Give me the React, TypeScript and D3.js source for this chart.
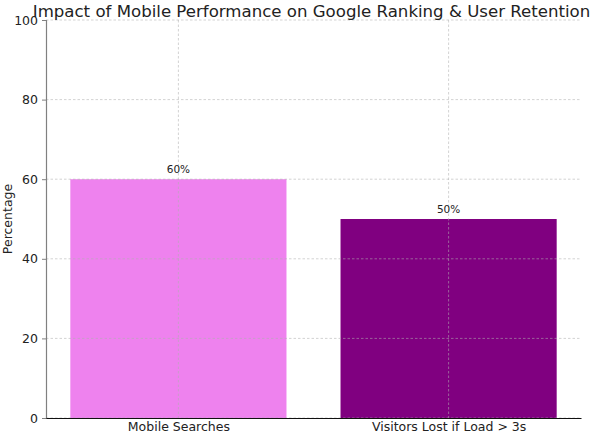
import React, { useRef, useEffect } from 'react';
import * as d3 from 'd3';

const categories = ['Mobile Searches', 'Visitors Lost if Load > 3s'];
const values = [60, 50];
const barColors = ['#EE82EE', '#800080'];
const yTicks = [0, 20, 40, 60, 80, 100];

const width = 593;
const height = 433;

const App: React.FC = () => {
  const svgRef = useRef<SVGSVGElement | null>(null);

  useEffect(() => {
    const svg = d3.select(svgRef.current);
    svg.selectAll('*').remove();

    const margin = { top: 20, right: 12, bottom: 15, left: 46 };
    const innerWidth = width - margin.left - margin.right;
    const innerHeight = height - margin.top - margin.bottom;
    const font = '"DejaVu Sans", sans-serif';

    // matplotlib-like band: bar width 0.8, 5% margins
    const x = d3.scaleLinear().domain([-0.49, 1.49]).range([0, innerWidth]);
    const y = d3.scaleLinear().domain([0, 100]).range([innerHeight, 0]);

    const g = svg.append('g').attr('transform', `translate(${margin.left},${margin.top})`);

    // Bars
    g.selectAll('rect.bar')
      .data(values)
      .enter()
      .append('rect')
      .attr('class', 'bar')
      .attr('x', (_, i) => x(i - 0.4))
      .attr('width', x(0.8) - x(0))
      .attr('y', d => y(d))
      .attr('height', d => innerHeight - y(d))
      .attr('fill', (_, i) => barColors[i]);

    // Grid (drawn over bars)
    g.append('g')
      .selectAll('line')
      .data(yTicks)
      .enter()
      .append('line')
      .attr('x1', 0)
      .attr('x2', innerWidth)
      .attr('y1', d => y(d))
      .attr('y2', d => y(d))
      .attr('stroke', '#b0b0b0')
      .attr('stroke-opacity', 0.7)
      .attr('stroke-width', 0.8)
      .attr('stroke-dasharray', '2.5,2');
    g.append('g')
      .selectAll('line')
      .data(categories)
      .enter()
      .append('line')
      .attr('x1', (_, i) => x(i))
      .attr('x2', (_, i) => x(i))
      .attr('y1', 0)
      .attr('y2', innerHeight)
      .attr('stroke', '#b0b0b0')
      .attr('stroke-opacity', 0.7)
      .attr('stroke-width', 0.8)
      .attr('stroke-dasharray', '2.5,2');

    // Value labels
    g.selectAll('text.value')
      .data(values)
      .enter()
      .append('text')
      .attr('class', 'value')
      .attr('x', (_, i) => x(i))
      .attr('y', d => y(d) - 6)
      .attr('text-anchor', 'middle')
      .attr('font-family', font)
      .attr('font-size', 10.5)
      .attr('fill', '#222')
      .text(d => `${d}%`);

    // Y axis
    const yAxis = g.append('g').call(
      d3.axisLeft(y).tickValues(yTicks).tickSize(4).tickPadding(4)
    );
    yAxis.select('.domain').attr('stroke', '#808080').attr('stroke-width', 1.2);
    yAxis.selectAll('.tick line').attr('stroke', '#808080');
    yAxis.selectAll('text')
      .attr('font-family', font)
      .attr('font-size', 12.5)
      .attr('fill', '#222');

    // X axis
    const xAxis = g.append('g')
      .attr('transform', `translate(0,${innerHeight})`)
      .call(
        d3.axisBottom(x)
          .tickValues([0, 1])
          .tickFormat((d) => categories[Number(d)])
          .tickSize(0)
          .tickPadding(4)
          .tickSizeOuter(0)
      );
    xAxis.select('.domain').attr('stroke', '#111').attr('stroke-width', 1.2);
    xAxis.selectAll('text')
      .attr('font-family', font)
      .attr('font-size', 12.5)
      .attr('fill', '#222');

    // Y label
    g.append('text')
      .attr('transform', 'rotate(-90)')
      .attr('x', -innerHeight / 2)
      .attr('y', -34)
      .attr('text-anchor', 'middle')
      .attr('font-family', font)
      .attr('font-size', 12.5)
      .attr('fill', '#222')
      .text('Percentage');

    // Title
    svg.append('text')
      .attr('x', margin.left + innerWidth / 2 - 2)
      .attr('y', 17)
      .attr('text-anchor', 'middle')
      .attr('font-family', font)
      .attr('font-size', 16.6)
      .attr('fill', '#222')
      .text('Impact of Mobile Performance on Google Ranking & User Retention');
  }, []);

  return (
    <svg
      ref={svgRef}
      width={width}
      height={height}
      style={{ position: 'absolute', left: 0, top: 0, background: '#fff' }}
    />
  );
};

export default App;
